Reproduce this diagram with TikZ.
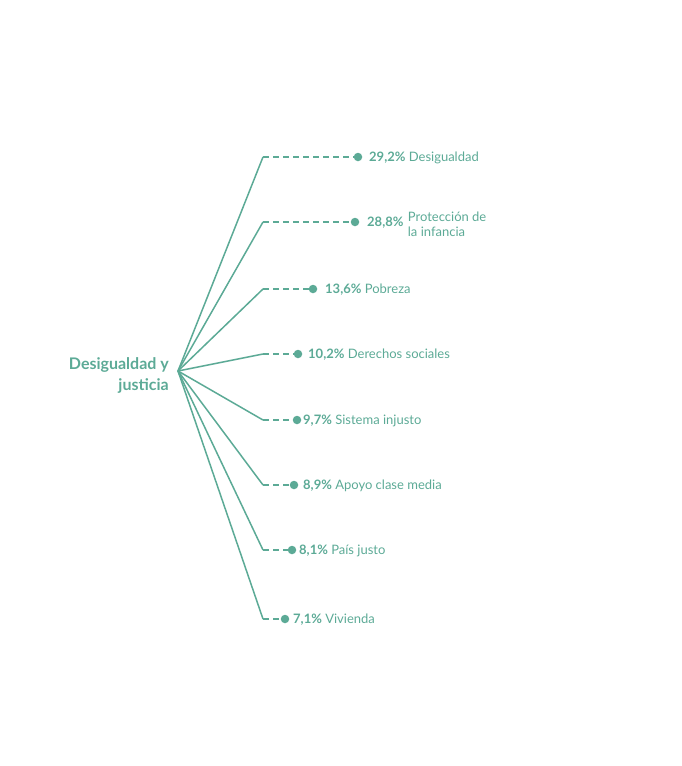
\documentclass[tikz,border=0pt]{standalone}
\usepackage{fontspec}
\setmainfont{Lato}
\definecolor{teal1}{RGB}{92,170,150}
\begin{document}
\begin{tikzpicture}[x=1pt,y=-1pt,
  branch/.style={draw=teal1,line width=1.5pt},
  dashline/.style={draw=teal1,line width=1.5pt,dash pattern=on 6pt off 4pt},
  dotnode/.style={circle,fill=teal1,inner sep=0pt,minimum size=8.5pt},
  lab/.style={anchor=west,text=teal1,font=\fontsize{13}{14}\selectfont,inner sep=0pt,align=left},
  ttl/.style={anchor=east,text=teal1,font=\fontsize{16}{21}\selectfont\bfseries,inner sep=0pt,align=right}]
\useasboundingbox (0,0) rectangle (682,766);
\coordinate (hub) at (178,371);
\node[ttl] (title) at (169,375) {Desigualdad y\\justicia};
\foreach \i/\y/\dx/\g/\pct/\txt in {1/157/358/11/{29,2\%}/{Desigualdad},
  3/289/313/12/{13,6\%}/{Pobreza},
  4/354/298/10/{10,2\%}/{Derechos sociales},
  5/420/297/6/{9,7\%}/{Sistema injusto},
  6/485/294/9/{8,9\%}/{Apoyo clase media},
  7/550/292/7/{8,1\%}/{País justo},
  8/619/285/8/{7,1\%}/{Vivienda}}{
  \coordinate (e\i) at (263,\y);
  \node[dotnode] (d\i) at (\dx,\y) {};
  \draw[branch] (hub) -- (e\i);
  \draw[dashline] (e\i) -- (d\i.center);
  \node[lab] (l\i) at ([xshift=\g pt,yshift=-1pt]d\i.center) {\textbf{\pct} \txt};
}
\coordinate (e2) at (263,222);
\node[dotnode] (d2) at (355,222) {};
\draw[branch] (hub) -- (e2);
\draw[dashline] (e2) -- (d2.center);
\node[lab,anchor=west] (b2) at ([xshift=12pt,yshift=-1pt]d2.center) {\textbf{28,8\%}};
\node[lab,anchor=west,font=\fontsize{13}{15}\selectfont] (l2) at ([xshift=4pt,yshift=-1pt]b2.east) {Protección de\\la infancia};
\end{tikzpicture}
\end{document}
